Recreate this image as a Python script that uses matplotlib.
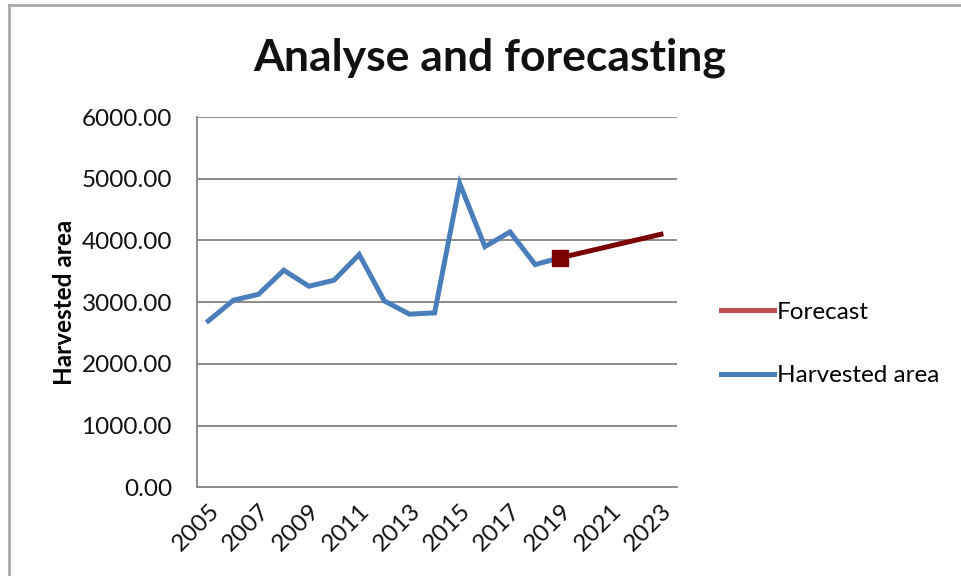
import matplotlib.pyplot as plt
from matplotlib.lines import Line2D

# historical harvested area
years = [2005, 2006, 2007, 2008, 2009, 2010, 2011, 2012, 2013, 2014,
         2015, 2016, 2017, 2018, 2019]
harvested = [2697, 3032, 3129, 3518, 3259, 3356, 3772, 3021, 2806, 2827,
             4920, 3900, 4138, 3610, 3720]

# forecast, starting from the last observed year
forecast_years = [2019, 2020, 2021, 2022, 2023]
forecast = [3720, 3815, 3910, 4005, 4100]

tick_years = list(range(2005, 2024, 2))
y_ticks = [0, 1000, 2000, 3000, 4000, 5000, 6000]

plt.rcParams['font.family'] = ['Lato', 'DejaVu Sans']

fig = plt.figure(figsize=(9.62, 5.76), dpi=100)
ax = fig.add_axes([197 / 962, 1 - 487.4 / 576, 480 / 962, (487.4 - 117) / 576])

ax.plot(years, harvested, color='#4a7ebb', linewidth=3.6, solid_joinstyle='miter', zorder=3)
ax.plot(forecast_years, forecast, color='#7b0000', linewidth=3.6, zorder=4)
ax.plot(forecast_years[:1], forecast[:1], marker='s', markersize=11,
        color='#7b0000', linestyle='none', zorder=5)

ax.set_xlim(2004.55, 2023.64)
ax.set_ylim(0, 6000)
ax.set_yticks(y_ticks)
ax.set_yticklabels([f'{v:.2f}' for v in y_ticks])
ax.set_xticks(tick_years)
ax.set_xticklabels([str(y) for y in tick_years], rotation=45, ha='right',
                   rotation_mode='anchor')
ax.tick_params(axis='both', length=0, labelsize=17.5, colors='#111111')
ax.tick_params(axis='x', pad=9)
ax.tick_params(axis='y', pad=18)

ax.grid(axis='y', color='#8c8c8c', linewidth=1.4)
ax.set_axisbelow(True)
for side in ['top', 'right']:
    ax.spines[side].set_visible(False)
for side in ['left', 'bottom']:
    ax.spines[side].set_color('#8c8c8c')
    ax.spines[side].set_linewidth(1.4)

ax.set_ylabel('Harvested area', fontsize=17.5, fontweight='bold', labelpad=4)

fig.text(490 / 962, 1 - 58 / 576, 'Analyse and forecasting', ha='center', va='center',
         fontsize=32, fontweight='bold', color='#111111')

handles = [Line2D([0], [0], color='#c0504d', linewidth=3.6),
           Line2D([0], [0], color='#4a7ebb', linewidth=3.6)]
fig.legend(handles, ['Forecast', 'Harvested area'], loc='center left',
           bbox_to_anchor=(699 / 962, 1 - 344 / 576), frameon=False, fontsize=17.5,
           handlelength=2.2, handletextpad=0.1, labelspacing=1.75)

# chart frame
fig.add_artist(Line2D([9 / 962, 1], [1 - 5 / 576, 1 - 5 / 576], color='#aaaaaa', linewidth=2))
fig.add_artist(Line2D([9 / 962, 9 / 962], [0, 1 - 5 / 576], color='#aaaaaa', linewidth=2))

fig.savefig('out.png', dpi=100)
